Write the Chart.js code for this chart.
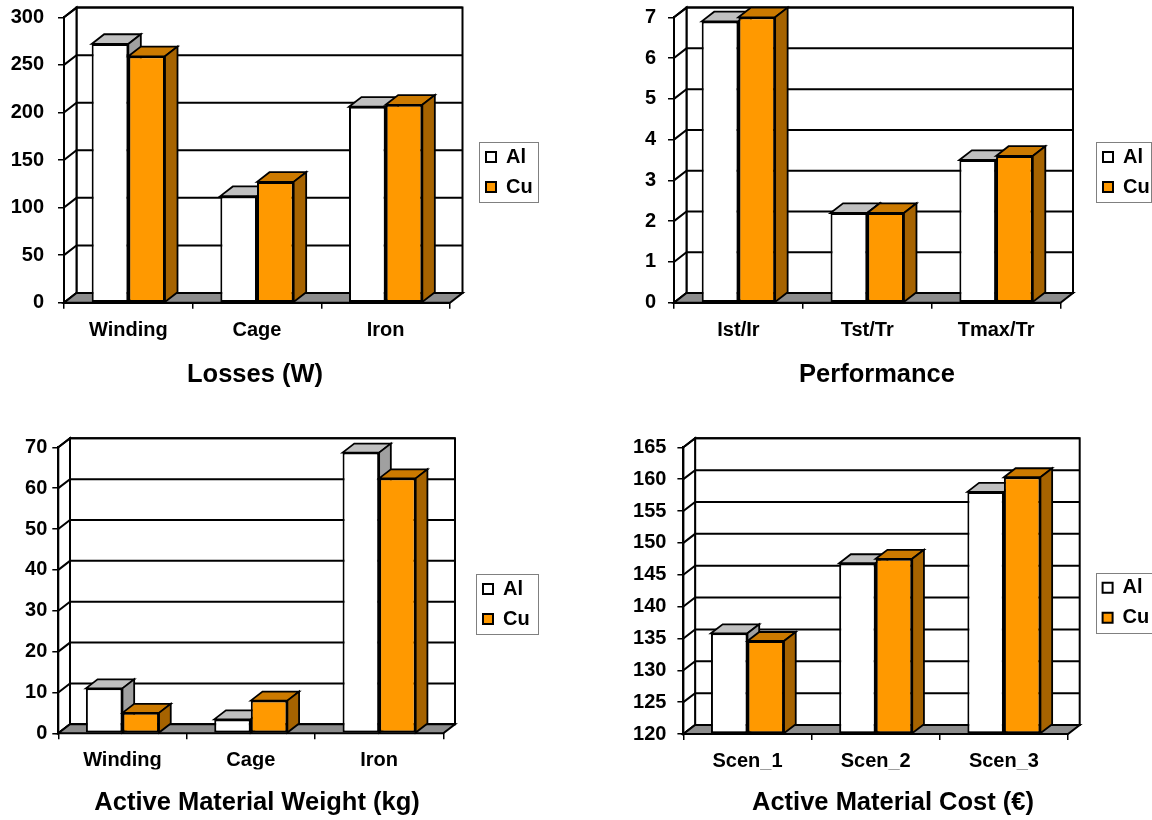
<!DOCTYPE html>
<html>
<head>
<meta charset="utf-8">
<script src="https://cdn.jsdelivr.net/npm/chart.js@4.4.1/dist/chart.umd.min.js"></script>
<style>
  html, body { margin: 0; padding: 0; background: #fff; width: 1152px; height: 820px; overflow: hidden; }
  .panel { position: absolute; width: 576px; height: 410px; }
  canvas { display: block; }
</style>
</head>
<body>
<div class="panel" style="left:0;top:0"><canvas id="losses" width="576" height="410"></canvas></div>
<div class="panel" style="left:576px;top:0"><canvas id="performance" width="576" height="410"></canvas></div>
<div class="panel" style="left:0;top:410px"><canvas id="weight" width="576" height="410"></canvas></div>
<div class="panel" style="left:576px;top:410px"><canvas id="cost" width="576" height="410"></canvas></div>
<script>
// ---- data ----
const seriesNames = ['Al', 'Cu'];

const lossCategories = ['Winding', 'Cage', 'Iron'];
const lossAl = [272, 112, 206];
const lossCu = [259, 127, 208];

const perfCategories = ['Ist/Ir', 'Tst/Tr', 'Tmax/Tr'];
const perfAl = [6.9, 2.2, 3.5];
const perfCu = [7.0, 2.2, 3.6];

const weightCategories = ['Winding', 'Cage', 'Iron'];
const weightAl = [11, 3.4, 68.7];
const weightCu = [5, 8, 62.4];

const costCategories = ['Scen_1', 'Scen_2', 'Scen_3'];
const costAl = [135.8, 146.8, 158.0];
const costCu = [134.6, 147.5, 160.3];

// ---- styling ----
const FONT = "'Liberation Sans', Arial, Helvetica, sans-serif";
const LEGEND_SIZE = 20, LEGEND_PAD = 10, TITLE_SIZE = 25.5;
const seriesStyle = [
  { front: '#FFFFFF', top: '#C0C0C0', side: '#A0A0A0' },
  { front: '#FF9900', top: '#CC7A00', side: '#A66300' }
];
const FLOOR = '#8C8C8C';

// Excel-like 3D column look: back wall, side wall, floor and extruded bars
const columns3d = {
  id: 'columns3d',
  afterLayout(chart, args, o) {
    const lg = chart.legend;
    if (lg && o.legendBox) {
      const lb = o.legendBox;
      lg.left = lb.x + 7 - LEGEND_PAD;
      lg.right = lg.left + 200;
      lg.width = 200;
      lg.top = lb.y + 15 - LEGEND_SIZE / 2 - LEGEND_PAD;
      lg.bottom = lg.top + 200;
      lg.height = 200;
    }
    const t = chart.titleBlock;
    if (t && o.titleAt) {
      const lh = TITLE_SIZE * 1.2;
      t.left = o.titleAt.x - 300;
      t.right = o.titleAt.x + 300;
      t.width = 600;
      t.top = o.titleAt.y - lh / 2 - t._padding.top;
      t.bottom = t.top + t.height;
    }
  },
  beforeDatasetsDraw(chart, args, o) {
    const { ctx, chartArea: a, scales } = chart;
    const ys = scales.y;
    const dx = o.dx, dy = o.dy;
    const L = a.left, R = a.right, T = a.top, B = a.bottom;
    const poly = (pts, fill, lw) => {
      ctx.beginPath();
      ctx.moveTo(pts[0][0], pts[0][1]);
      for (let i = 1; i < pts.length; i++) ctx.lineTo(pts[i][0], pts[i][1]);
      ctx.closePath();
      if (fill) { ctx.fillStyle = fill; ctx.fill(); }
      ctx.lineWidth = lw;
      ctx.stroke();
    };
    ctx.save();
    ctx.strokeStyle = '#000';
    ctx.lineJoin = 'miter';
    // back wall
    poly([[L + dx, T + dy], [R + dx, T + dy], [R + dx, B + dy], [L + dx, B + dy]], '#fff', 2);
    // left wall
    poly([[L, T], [L + dx, T + dy], [L + dx, B + dy], [L, B]], '#fff', 2);
    // gridlines across both walls
    ctx.lineWidth = 2;
    ys.ticks.forEach(t => {
      const yp = ys.getPixelForValue(t.value);
      ctx.beginPath();
      ctx.moveTo(L, yp);
      ctx.lineTo(L + dx, yp + dy);
      ctx.lineTo(R + dx, yp + dy);
      ctx.stroke();
    });
    // floor
    poly([[L, B], [R, B], [R + dx, B + dy], [L + dx, B + dy]], FLOOR, 2);

    // bars, left to right so each neighbour hides the previous side face
    const metas = chart.data.datasets.map((d, i) => chart.getDatasetMeta(i));
    const n = chart.data.labels.length;
    for (let i = 0; i < n; i++) {
      metas.forEach((m, di) => {
        const el = m.data[i];
        if (!el) return;
        el.draw(ctx);
        const { x, y, base, width } = el.getProps(['x', 'y', 'base', 'width'], true);
        const l = x - width / 2, r = x + width / 2;
        const st = seriesStyle[di];
        ctx.strokeStyle = '#000';
        poly([[l, y], [l + dx, y + dy], [r + dx, y + dy], [r, y]], st.top, 1.8);
        poly([[r, y], [r + dx, y + dy], [r + dx, base + dy], [r, base]], st.side, 1.8);
      });
    }
    ctx.restore();
    return false;
  },
  afterDraw(chart, args, o) {
    if (!o.legendBox) return;
    const { ctx } = chart;
    const lb = o.legendBox;
    ctx.save();
    ctx.strokeStyle = '#808080';
    ctx.lineWidth = 1;
    ctx.strokeRect(Math.round(lb.x) + 0.5, Math.round(lb.y) + 0.5, lb.w, lb.h);
    ctx.restore();
  }
};

function makeChart(id, p) {
  const tickFont = { family: FONT, size: 20, weight: 'bold' };
  return new Chart(document.getElementById(id), {
    type: 'bar',
    data: {
      labels: p.categories,
      datasets: p.series.map((vals, i) => ({
        label: seriesNames[i],
        data: vals,
        base: p.yMin,
        backgroundColor: seriesStyle[i].front,
        borderColor: '#000',
        borderWidth: 2,
        borderSkipped: false,
        barPercentage: 1.0,
        categoryPercentage: 0.57
      }))
    },
    options: {
      responsive: false,
      animation: false,
      devicePixelRatio: 1,
      events: [],
      layout: { padding: { top: p.area.top, right: 576 - p.area.right, bottom: 0, left: 0 } },
      scales: {
        x: {
          grid: { offset: true, drawOnChartArea: false, drawTicks: true, tickLength: 6, color: '#000', lineWidth: 1.5 },
          border: { display: true, color: '#000', width: 2 },
          ticks: { color: '#000', font: tickFont, padding: p.xPad, maxRotation: 0 },
          afterFit(s) {
            const tb = s.chart.titleBlock;
            s.height = s.chart.height - p.area.bottom - (tb ? tb.height : 0);
            s.paddingLeft = 0; s.paddingRight = 0;
          }
        },
        y: {
          min: p.yMin, max: p.yMax,
          grid: { drawOnChartArea: false, drawTicks: true, tickLength: 6, color: '#000', lineWidth: 1.5 },
          border: { display: true, color: '#000', width: 2 },
          ticks: { stepSize: p.yStep, color: '#000', font: tickFont, padding: p.yPad },
          afterFit(s) {
            s.width = p.area.left;
            s.paddingTop = 0; s.paddingBottom = 0;
          }
        }
      },
      plugins: {
        tooltip: { enabled: false },
        legend: {
          position: 'chartArea',
          align: 'start',
          labels: { boxWidth: 10, boxHeight: 10, padding: LEGEND_PAD, color: '#000', font: { family: FONT, size: LEGEND_SIZE, weight: 'bold' } }
        },
        title: {
          display: true,
          text: p.title,
          position: 'bottom',
          color: '#000',
          font: { family: FONT, size: TITLE_SIZE, weight: 'bold' }
        },
        columns3d: { dx: p.dx, dy: p.dy, legendBox: p.legend, titleAt: p.titleAt }
      }
    },
    plugins: [columns3d]
  });
}

makeChart('losses', {
  title: 'Losses (W)', categories: lossCategories, series: [lossAl, lossCu],
  yMin: 0, yMax: 300, yStep: 50,
  area: { left: 64, right: 450, top: 17.3, bottom: 302.7 },
  dx: 12.5, dy: -9.7, yPad: 14, xPad: 10,
  legend: { x: 479, y: 142, w: 59, h: 60 }, titleAt: { x: 255, y: 375 }
});
makeChart('performance', {
  title: 'Performance', categories: perfCategories, series: [perfAl, perfCu],
  yMin: 0, yMax: 7, yStep: 1,
  area: { left: 98, right: 484.5, top: 17.3, bottom: 302.7 },
  dx: 12.5, dy: -9.7, yPad: 12, xPad: 10,
  legend: { x: 520, y: 142, w: 55, h: 60 }, titleAt: { x: 301, y: 375 }
});
makeChart('weight', {
  title: 'Active Material Weight (kg)', categories: weightCategories, series: [weightAl, weightCu],
  yMin: 0, yMax: 70, yStep: 10,
  area: { left: 58.3, right: 443.3, top: 37.3, bottom: 323.3 },
  dx: 11.7, dy: -9, yPad: 5, xPad: 9,
  legend: { x: 476, y: 164, w: 62, h: 60 }, titleAt: { x: 257, y: 393 }
});
makeChart('cost', {
  title: 'Active Material Cost (€)', categories: costCategories, series: [costAl, costCu],
  yMin: 120, yMax: 165, yStep: 5,
  area: { left: 107.4, right: 492, top: 37.3, bottom: 324 },
  dx: 11.7, dy: -9, yPad: 11, xPad: 9,
  legend: { x: 519.6, y: 162.7, w: 56, h: 60 }, titleAt: { x: 317, y: 393 }
});
</script>
</body>
</html>
